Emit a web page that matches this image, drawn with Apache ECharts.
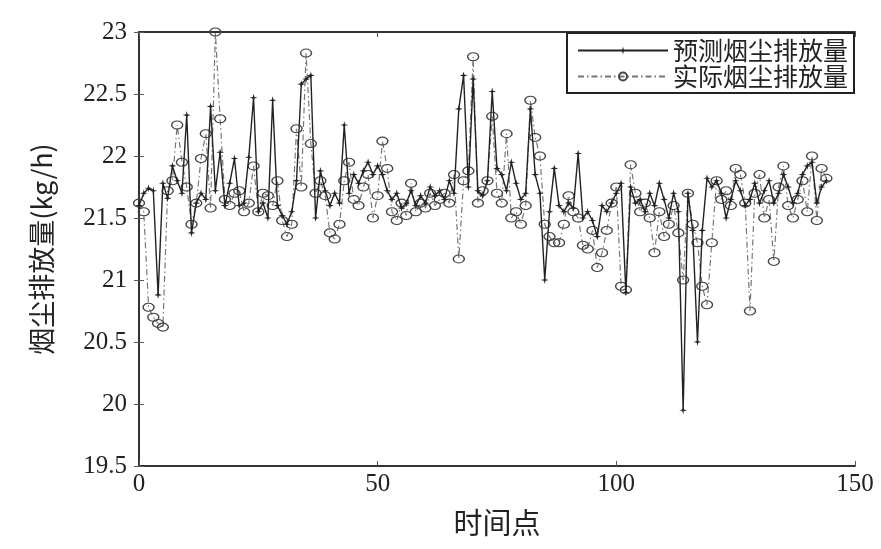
<!DOCTYPE html>
<html>
<head>
<meta charset="utf-8">
<script src="https://cdn.jsdelivr.net/npm/echarts@6/dist/echarts.min.js"></script>
<style>
  html, body { margin: 0; padding: 0; background: #fff; }
  #chart { width: 881px; height: 549px; }
</style>
</head>
<body>
<div id="chart"></div>
<script>
// Time index 0..144
const timePoints = Array.from({ length: 145 }, (_, i) => i);

// Predicted dust emission (kg/h)
const predicted = [
  21.60, 21.70, 21.74, 21.72, 20.88, 21.78, 21.66, 21.92, 21.80, 21.70,
  22.33, 21.38, 21.62, 21.70, 21.65, 22.40, 21.72, 22.03, 21.60, 21.78,
  21.98, 21.60, 21.62, 21.99, 22.47, 21.55, 21.62, 21.50, 22.45, 21.60,
  21.52, 21.45, 21.55, 21.80, 22.58, 22.62, 22.65, 21.50, 21.88, 21.72,
  21.60, 21.70, 21.62, 22.25, 21.70, 21.85, 21.78, 21.88, 21.95, 21.85,
  21.92, 21.85, 21.72, 21.65, 21.70, 21.58, 21.62, 21.72, 21.60, 21.68,
  21.62, 21.75, 21.68, 21.72, 21.65, 21.80, 21.70, 22.38, 22.65, 21.75,
  22.62, 21.72, 21.68, 21.80, 22.52, 21.90, 21.85, 21.72, 21.95, 21.78,
  21.65, 21.70, 22.38, 21.85, 21.70, 21.00, 21.55, 21.90, 21.60, 21.55,
  21.62, 21.58, 22.02, 21.50, 21.55, 21.48, 21.35, 21.60, 21.55, 21.62,
  21.70, 21.78, 20.90, 21.75, 21.62, 21.65, 21.55, 21.70, 21.60, 21.78,
  21.65, 21.50, 21.70, 21.55, 19.95, 21.70, 21.40, 20.50, 21.40, 21.82,
  21.75, 21.80, 21.70, 21.50, 21.65, 21.80, 21.72, 21.60, 21.65, 21.78,
  21.62, 21.72, 21.80, 21.62, 21.70, 21.85, 21.75, 21.62, 21.70, 21.85,
  21.92, 21.95, 21.62, 21.75, 21.80
];

// Measured dust emission (kg/h)
const actual = [
  21.62, 21.55, 20.78, 20.70, 20.65, 20.62, 21.72, 21.80, 22.25, 21.95,
  21.75, 21.45, 21.62, 21.98, 22.18, 21.58, 23.00, 22.30, 21.65, 21.60,
  21.70, 21.72, 21.55, 21.62, 21.92, 21.55, 21.70, 21.68, 21.60, 21.80,
  21.48, 21.35, 21.45, 22.22, 21.75, 22.83, 22.10, 21.70, 21.80, 21.68,
  21.38, 21.33, 21.45, 21.80, 21.95, 21.65, 21.60, 21.75, 21.85, 21.50,
  21.68, 22.12, 21.90, 21.55, 21.48, 21.62, 21.52, 21.78, 21.55, 21.62,
  21.58, 21.70, 21.60, 21.65, 21.70, 21.62, 21.85, 21.17, 21.80, 21.88,
  22.80, 21.62, 21.72, 21.80, 22.32, 21.70, 21.62, 22.18, 21.50, 21.55,
  21.45, 21.60, 22.45, 22.15, 22.00, 21.45, 21.35, 21.30, 21.30, 21.45,
  21.68, 21.55, 21.50, 21.28, 21.25, 21.40, 21.10, 21.22, 21.40, 21.62,
  21.75, 20.95, 20.92, 21.93, 21.70, 21.55, 21.62, 21.50, 21.22, 21.55,
  21.35, 21.45, 21.60, 21.38, 21.00, 21.70, 21.45, 21.30, 20.95, 20.80,
  21.30, 21.80, 21.65, 21.72, 21.60, 21.90, 21.85, 21.62, 20.75, 21.70,
  21.85, 21.50, 21.65, 21.15, 21.75, 21.92, 21.60, 21.50, 21.65, 21.80,
  21.55, 22.00, 21.48, 21.90, 21.82
];

const xTicks = [0, 50, 100, 150];
const yTicks = [19.5, 20, 20.5, 21, 21.5, 22, 22.5, 23];

const seriesNames = ['预测烟尘排放量', '实际烟尘排放量'];

const pair = (vals) => timePoints.map((t, i) => [t, vals[i]]);

const serif = '"Liberation Serif", "DejaVu Serif", serif';
const cjk = '"Noto Sans CJK SC", sans-serif';

const chart = echarts.init(document.getElementById('chart'), null, { renderer: 'canvas' });

const frameLine = { show: true, lineStyle: { color: '#333', width: 2 } };
const inTick = { show: true, inside: true, length: 5, lineStyle: { color: '#555', width: 1 } };

chart.setOption({
  backgroundColor: '#fff',
  animation: false,
  grid: { left: 139, right: 26, top: 32, bottom: 83 },
  legend: {
    data: seriesNames,
    orient: 'vertical',
    right: 27,
    top: 33,
    padding: [5, 6, 4, 10],
    itemGap: 1,
    itemWidth: 90,
    itemHeight: 10,
    borderColor: '#222',
    borderWidth: 2,
    backgroundColor: '#fff',
    textStyle: { fontFamily: cjk, fontSize: 25, color: '#222' }
  },
  xAxis: [
    {
      type: 'value', min: 0, max: 150, interval: 50,
      name: '时间点', nameLocation: 'middle', nameGap: 42,
      nameTextStyle: { fontFamily: cjk, fontSize: 29, color: '#222' },
      axisLine: frameLine, axisTick: inTick,
      axisLabel: { fontFamily: serif, fontSize: 25, color: '#222', margin: 6,
        formatter: (v) => (xTicks.includes(v) ? String(v) : '') },
      splitLine: { show: false }
    },
    {
      type: 'value', position: 'top', min: 0, max: 150, interval: 50,
      axisLine: frameLine, axisTick: inTick, axisLabel: { show: false }, splitLine: { show: false }
    }
  ],
  yAxis: [
    {
      type: 'value', min: 19.5, max: 23, interval: 0.5,
      name: '烟尘排放量(kg/h)', nameLocation: 'middle', nameGap: 84, nameRotate: 90,
      nameTextStyle: { fontFamily: cjk, fontSize: 27, color: '#222' },
      axisLine: frameLine, axisTick: inTick,
      axisLabel: { fontFamily: serif, fontSize: 25, color: '#222', margin: 12,
        formatter: (v) => (yTicks.includes(v) ? String(v) : '') },
      splitLine: { show: false }
    },
    {
      type: 'value', position: 'right', min: 19.5, max: 23, interval: 0.5,
      axisLine: frameLine, axisTick: inTick, axisLabel: { show: false }, splitLine: { show: false }
    }
  ],
  series: [
    {
      name: seriesNames[1],
      type: 'line',
      data: pair(actual),
      symbol: 'circle',
      symbolSize: [11, 8],
      showAllSymbol: true,
      lineStyle: { color: '#777', width: 1.2, type: [6, 3, 1.5, 3] },
      itemStyle: { color: 'rgba(255,255,255,0)', borderColor: '#444', borderWidth: 1.2 },
      z: 2
    },
    {
      name: seriesNames[0],
      type: 'line',
      data: pair(predicted),
      symbol: 'path://M0,-10L2,-2L10,0L2,2L0,10L-2,2L-10,0L-2,-2Z',
      symbolSize: 8,
      showAllSymbol: true,
      lineStyle: { color: '#222', width: 1.4 },
      itemStyle: { color: '#222' },
      z: 3
    }
  ]
});
</script>
</body>
</html>
